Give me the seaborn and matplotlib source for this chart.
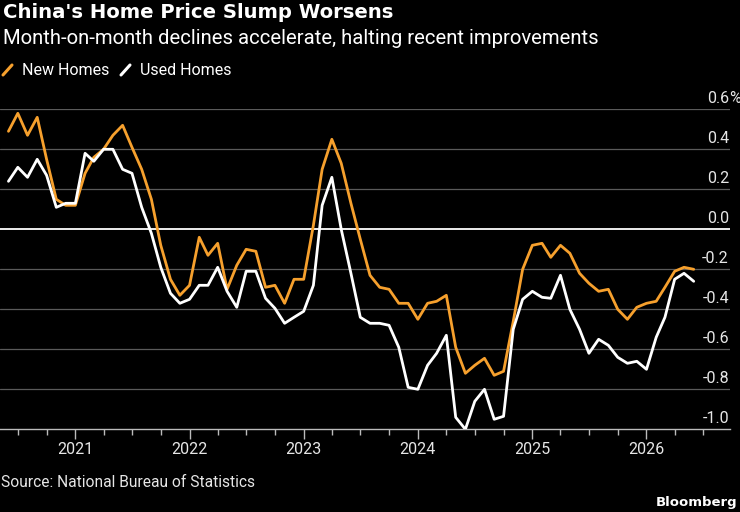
import pandas as pd
import seaborn as sns
import matplotlib.pyplot as plt
import matplotlib.dates as mdates
from matplotlib.lines import Line2D
from matplotlib.transforms import offset_copy

# Monthly change in home prices, June 2020 to June 2026 (%)
months = pd.date_range('2020-06-01', '2026-06-01', freq='MS')
new_homes = [0.49, 0.58, 0.47, 0.56, 0.35, 0.15, 0.12, 0.12, 0.28, 0.36, 0.40, 0.47,
             0.52, 0.41, 0.30, 0.15, -0.08, -0.25, -0.33, -0.28, -0.04, -0.13, -0.07, -0.30,
             -0.18, -0.10, -0.11, -0.29, -0.28, -0.37, -0.25, -0.25, 0.02, 0.30, 0.45, 0.33,
             0.13, -0.05, -0.23, -0.29, -0.30, -0.37, -0.37, -0.45, -0.37, -0.36, -0.33, -0.59,
             -0.72, -0.68, -0.645, -0.73, -0.71, -0.46, -0.20, -0.08, -0.07, -0.14, -0.08, -0.12,
             -0.22, -0.27, -0.31, -0.30, -0.40, -0.45, -0.39, -0.37, -0.36, -0.29, -0.21, -0.19,
             -0.20]
used_homes = [0.24, 0.31, 0.26, 0.35, 0.27, 0.11, 0.13, 0.13, 0.38, 0.34, 0.40, 0.40,
              0.30, 0.28, 0.11, -0.02, -0.19, -0.32, -0.37, -0.35, -0.28, -0.28, -0.19, -0.31,
              -0.39, -0.21, -0.21, -0.345, -0.395, -0.47, -0.44, -0.41, -0.28, 0.12, 0.26, 0.00,
              -0.22, -0.44, -0.47, -0.47, -0.48, -0.59, -0.79, -0.80, -0.68, -0.62, -0.53, -0.94,
              -1.00, -0.86, -0.80, -0.95, -0.935, -0.50, -0.35, -0.31, -0.34, -0.345, -0.23, -0.40,
              -0.50, -0.62, -0.55, -0.58, -0.64, -0.67, -0.66, -0.70, -0.54, -0.44, -0.25, -0.22,
              -0.26]
series_names = ['New Homes', 'Used Homes']
series_colors = ['#F6A02D', '#FFFFFF']
y_ticks = [0.6, 0.4, 0.2, 0.0, -0.2, -0.4, -0.6, -0.8, -1.0]

df = pd.DataFrame({'date': months, 'New Homes': new_homes, 'Used Homes': used_homes})
df = df.melt(id_vars='date', var_name='series', value_name='change')

sns.set_style('dark')
plt.rcParams['font.family'] = ['Roboto', 'DejaVu Sans']
plt.rcParams['text.color'] = 'white'

W, H = 740, 512
fig = plt.figure(figsize=(7.4, 5.12), dpi=100, facecolor='black')
ax = fig.add_axes([0, 82.7 / H, 730 / W, 320 / H])
ax.set_facecolor('black')

sns.lineplot(data=df, x='date', y='change', hue='series', hue_order=series_names,
             palette=series_colors, linewidth=2.0, legend=False, ax=ax, zorder=3)

ax.set_ylim(-1.0, 0.6)
ax.set_xlim(pd.Timestamp('2020-05-05'), pd.Timestamp('2026-09-25'))

# gridlines and right-hand labels sitting above them
for v in y_ticks:
    if v == 0:
        ax.axhline(v, color='white', lw=1.3, zorder=2)
    elif v > -1.0:
        ax.axhline(v, color='#5a5a5a', lw=0.9, zorder=1)
lab_tr = offset_copy(ax.get_yaxis_transform(), fig=fig, x=-1, y=6, units='dots')
for v in y_ticks:
    ax.text(1.0, v, f'{v:.1f}', transform=lab_tr, ha='right', va='baseline',
            fontsize=11.5, color='#e6e6e6')
ax.text(1.0, y_ticks[0], '%', transform=lab_tr, ha='left', va='baseline',
        fontsize=11.5, color='#e6e6e6', clip_on=False)

ax.set_yticks([])
ax.set_ylabel('')
ax.set_xlabel('')
ax.xaxis.set_major_locator(mdates.YearLocator())
ax.xaxis.set_major_formatter(mdates.DateFormatter('%Y'))
ax.xaxis.set_minor_locator(mdates.MonthLocator(bymonth=[1, 4, 7, 10]))
ax.tick_params(axis='x', which='major', length=7, width=1, color='#bbbbbb',
               labelcolor='#e6e6e6', labelsize=11.5, pad=2, bottom=True)
ax.tick_params(axis='x', which='minor', length=4, width=1, color='#bbbbbb', bottom=True)
ax.grid(False)
for side in ['top', 'left', 'right']:
    ax.spines[side].set_visible(False)
ax.spines['bottom'].set_color('#bbbbbb')
ax.spines['bottom'].set_linewidth(1)

# header
fig.text(3 / W, 1 - 18.5 / H, "China's Home Price Slump Worsens", ha='left', va='baseline',
         fontsize=14.1, fontweight='bold', color='white', family='DejaVu Sans')
fig.text(3 / W, 1 - 43.5 / H, 'Month-on-month declines accelerate, halting recent improvements',
         ha='left', va='baseline', fontsize=14.6, color='white')

# legend
leg_x = [3, 121]
for name, color, x0 in zip(series_names, series_colors, leg_x):
    fig.add_artist(Line2D([x0 / W, (x0 + 9) / W], [1 - 75 / H, 1 - 65 / H],
                          color=color, lw=2.2, transform=fig.transFigure))
    fig.text((x0 + 19) / W, 1 - 75 / H, name, ha='left', va='baseline',
             fontsize=11.5, color='white')

# footer
fig.text(1 / W, 1 - 487 / H, 'Source: National Bureau of Statistics', ha='left',
         va='baseline', fontsize=11.2, color='#e6e6e6')
fig.text(737 / W, 1 - 506 / H, 'Bloomberg', ha='right', va='baseline',
         fontsize=9.5, fontweight='bold', color='white', family='DejaVu Sans')

fig.savefig('out.png', dpi=100, facecolor='black')
